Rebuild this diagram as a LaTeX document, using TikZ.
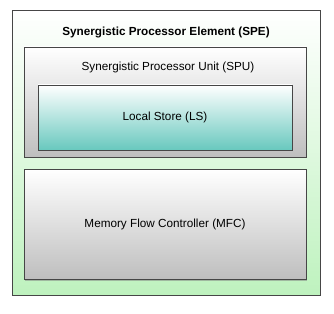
\documentclass[tikz,border=0pt]{standalone}
\usepackage{fontspec}
\setmainfont{Liberation Sans}
\usepackage{tikz}
\usetikzlibrary{shadows}

\definecolor{verdeclaro}{RGB}{190,242,190}
\definecolor{cinzaclaro}{RGB}{190,190,190}
\definecolor{turquesa}{RGB}{104,200,190}
\definecolor{borda}{RGB}{70,70,70}

\begin{document}
\begin{tikzpicture}[
        x=0.75pt, y=-0.75pt,
        every node/.style={
            font=\fontsize{8.8}{10}\selectfont,
            align=center,
            inner sep=0pt
        },
        bloco/.style={
            draw=borda,
            line width=0.5pt,
            drop shadow={shadow xshift=1pt, shadow yshift=-1pt, opacity=0.5}
        },
        cinza/.style={
            bloco,
            top color=white,
            bottom color=cinzaclaro
        }
    ]

    \useasboundingbox (0,0) rectangle (334,313);

    % caixa externa (SPE)
    \node[bloco, top color=white, bottom color=verdeclaro,
          minimum width=231pt, minimum height=213.75pt] (spe) at (166,152.5) {};
    \node[font=\fontsize{8.8}{10}\selectfont\bfseries] (titulo) at (166,32) {Synergistic Processor Element (SPE)};

    % SPU com o Local Store dentro
    \node[cinza, minimum width=211.5pt, minimum height=82.5pt] (spu) at (165,102) {};
    \node (spurotulo) at (168,67) {Synergistic Processor Unit (SPU)};

    \node[bloco, top color=white, bottom color=turquesa,
          minimum width=190.5pt, minimum height=48.75pt] (ls) at (165,117.5) {Local Store (LS)};

    % MFC
    \node[cinza, minimum width=211.5pt, minimum height=82.5pt] (mfc) at (165,224.5) {Memory Flow Controller (MFC)};

\end{tikzpicture}
\end{document}
